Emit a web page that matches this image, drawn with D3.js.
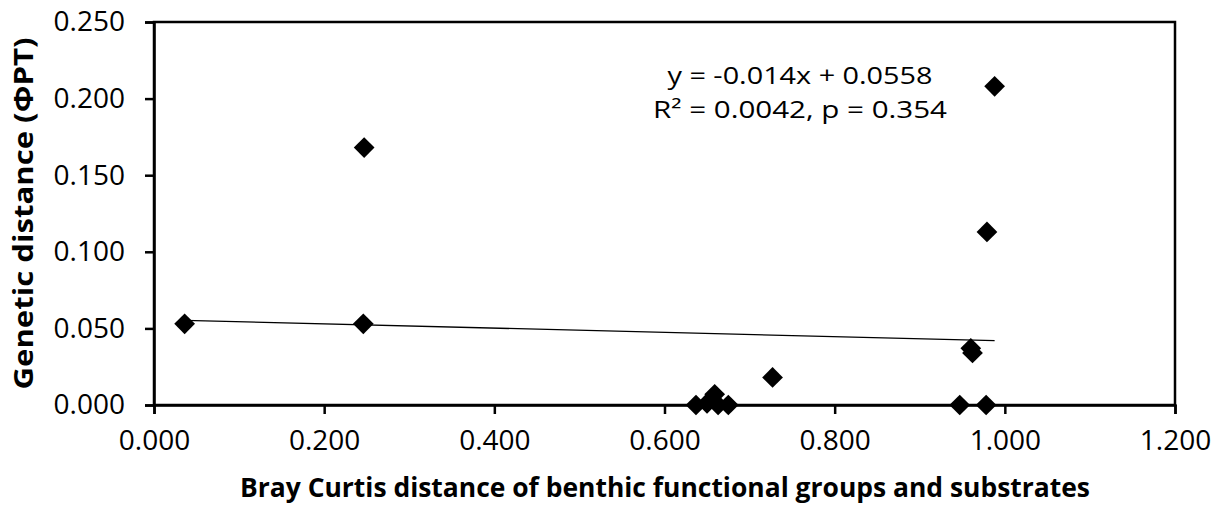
<!DOCTYPE html>
<html>
<head>
<meta charset="utf-8">
<script src="https://cdn.jsdelivr.net/npm/d3@7"></script>
<style>
  body { margin: 0; background: #fff; }
  text { font-family: "Open Sans", "Noto Sans", sans-serif; fill: #000; }
</style>
</head>
<body>
<div id="chart"></div>
<script>
// Bray Curtis distance (x) vs genetic distance PhiPT (y)
const brayCurtis = [0.036, 0.246, 0.247, 0.637, 0.650, 0.659, 0.663, 0.675, 0.727, 0.947, 0.960, 0.962, 0.978, 0.979, 0.988];
const geneticDist = [0.053, 0.053, 0.168, 0.000, 0.001, 0.007, 0.000, 0.000, 0.018, 0.000, 0.037, 0.034, 0.000, 0.113, 0.208];

const xTicks = [0, 0.2, 0.4, 0.6, 0.8, 1.0, 1.2];
const yTicks = [0, 0.05, 0.1, 0.15, 0.2, 0.25];

// trendline from the reported fit
const slope = -0.014, intercept = 0.0558;
const eqLines = ["y = -0.014x + 0.0558", "R² = 0.0042, p = 0.354"];

const width = 1224, height = 509;
const margin = { top: 22, right: 49, bottom: 104, left: 154 };

const svg = d3.select("#chart").append("svg")
    .attr("width", width)
    .attr("height", height);

const x = d3.scaleLinear().domain([0, 1.2]).range([margin.left, width - margin.right]);
const y = d3.scaleLinear().domain([0, 0.25]).range([height - margin.bottom, margin.top]);

// frame
svg.append("rect")
    .attr("x", x(0)).attr("y", y(0.25))
    .attr("width", x(1.2) - x(0)).attr("height", y(0) - y(0.25))
    .attr("fill", "none").attr("stroke", "#000").attr("stroke-width", 2.5);

const xAxis = svg.append("g")
    .attr("transform", `translate(0,${y(0)})`)
    .call(d3.axisBottom(x).tickValues(xTicks).tickFormat(d3.format(".3f")).tickSize(9).tickPadding(16));

const yAxis = svg.append("g")
    .attr("transform", `translate(${x(0)},0)`)
    .call(d3.axisLeft(y).tickValues(yTicks).tickFormat(d3.format(".3f")).tickSize(9).tickPadding(20));

[xAxis, yAxis].forEach(g => {
    g.select(".domain").attr("stroke", "#000").attr("stroke-width", 2.5);
    g.selectAll(".tick line").attr("stroke", "#000").attr("stroke-width", 2.5);
    g.selectAll(".tick text").style("font-size", "28px").attr("fill", "#000");
});

// trendline
const xr = d3.extent(brayCurtis);
svg.append("line")
    .attr("x1", x(xr[0])).attr("y1", y(slope * xr[0] + intercept))
    .attr("x2", x(xr[1])).attr("y2", y(slope * xr[1] + intercept))
    .attr("stroke", "#000").attr("stroke-width", 1.3);

// points (diamonds)
const diamond = d3.symbol().type(d3.symbolSquare).size(215);
svg.selectAll(".pt")
    .data(brayCurtis.map((d, i) => [d, geneticDist[i]]))
    .enter().append("path")
    .attr("class", "pt")
    .attr("d", diamond)
    .attr("transform", d => `translate(${x(d[0])},${y(d[1])}) rotate(45)`)
    .attr("fill", "#000");

// equation
const eqWidths = [265, 294];
svg.selectAll(".eq")
    .data(eqLines)
    .enter().append("text")
    .attr("class", "eq")
    .attr("x", 800)
    .attr("y", (d, i) => 84 + i * 34)
    .attr("text-anchor", "middle")
    .attr("textLength", (d, i) => eqWidths[i])
    .attr("lengthAdjust", "spacingAndGlyphs")
    .style("font-size", "24px")
    .text(d => d);

// axis titles
svg.append("text")
    .attr("x", 665).attr("y", 497)
    .attr("text-anchor", "middle")
    .attr("textLength", 850).attr("lengthAdjust", "spacingAndGlyphs")
    .style("font-size", "26px").style("font-weight", "bold")
    .text("Bray Curtis distance of benthic functional groups and substrates");

svg.append("text")
    .attr("transform", `translate(33,${(y(0) + y(0.25)) / 2}) rotate(-90)`)
    .attr("text-anchor", "middle")
    .attr("textLength", 352).attr("lengthAdjust", "spacingAndGlyphs")
    .style("font-size", "26px").style("font-weight", "bold")
    .text("Genetic distance (ΦPT)");
</script>
</body>
</html>
